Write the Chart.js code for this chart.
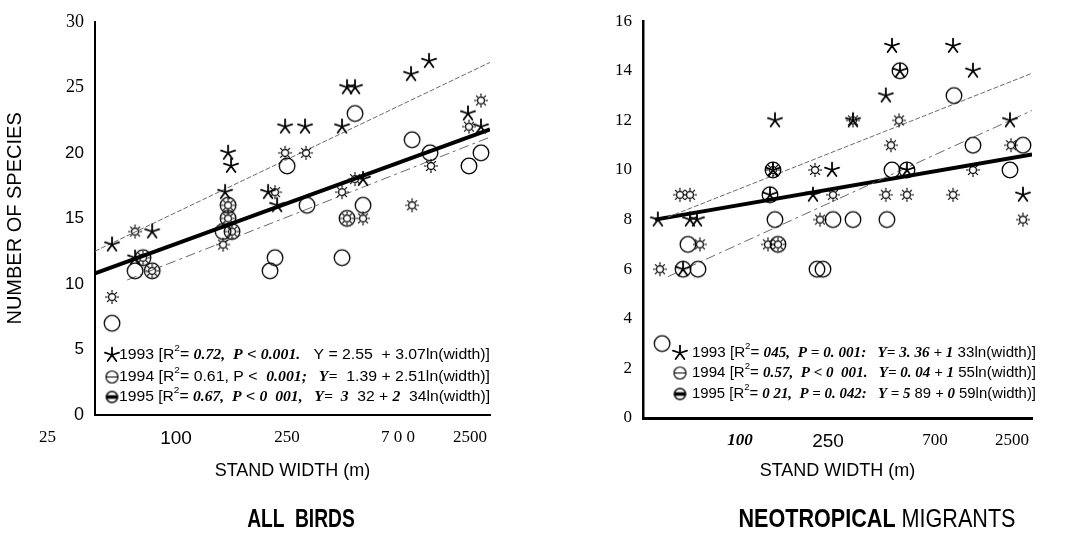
<!DOCTYPE html>
<html><head><meta charset="utf-8">
<script src="https://cdn.jsdelivr.net/npm/chart.js@4.4.0/dist/chart.umd.min.js"></script>
<style>
html,body{margin:0;padding:0;background:#fff;}
#wrap{position:relative;width:1073px;height:535px;overflow:hidden;background:#fff;}
#c1box{position:absolute;left:0;top:0;width:530px;height:535px;}
#c2box{position:absolute;left:530px;top:0;width:543px;height:535px;}
.ttl{position:absolute;top:503px;font-family:'Liberation Sans Narrow','Arial Narrow','Liberation Sans',sans-serif;font-size:26px;line-height:30px;color:#000;white-space:pre;}
</style></head><body>
<div id="wrap">
<div id="c1box"><canvas id="c1" width="530" height="535" style="width:530px;height:535px"></canvas></div>
<div id="c2box"><canvas id="c2" width="543" height="535" style="width:543px;height:535px"></canvas></div>
<div class="ttl" style="left:301px;font-weight:bold;transform:translateX(-50%) scaleX(0.74)">ALL  BIRDS</div>
<div class="ttl" style="left:877px;transform:translateX(-50%) scaleX(0.83)"><b>NEOTROPICAL</b> MIGRANTS</div>
</div>
<script>
// ---------- DATA: ALL BIRDS ----------
const allWidth1993 = [30.0, 48.4, 39.5, 119.5, 123.8, 115.3, 192.4, 214.2, 235.6, 298.9, 464.3, 492.7, 542, 596, 1056, 1308, 2080, 2429];
const allSpp1993   = [13, 14, 12, 20, 19, 17, 17, 16, 22, 22, 22, 25, 25, 18, 26, 27, 23, 22];
const allWidth1994 = [30.0, 39.5, 43.4, 48.4, 119.5, 119.5, 112.6, 125.3, 241.3, 209.1, 197.0, 306.1, 542, 464.3, 492.7, 596, 1069, 1324, 2105, 2429];
const allSpp1994   = [7, 11, 12, 11, 16, 15, 14, 14, 19, 12, 11, 16, 23, 12, 15, 16, 21, 20, 19, 20];
const allWidth1995 = [30.0, 39.5, 43.4, 48.4, 119.5, 119.5, 125.3, 112.6, 209.1, 235.6, 302.5, 464.3, 542, 492.7, 596, 1339, 1069, 2429, 2105];
const allSpp1995   = [9, 14, 12, 11, 16, 15, 14, 13, 17, 20, 20, 17, 18, 15, 15, 19, 16, 24, 22];
const allFitX1993 = [24.5, 2704], allFitY1993 = [12.5, 26.9];
const allFitX1994 = [35.9, 2704], allFitY1994 = [10.3, 21.2];
const allFitX1995 = [24.5, 2704], allFitY1995 = [10.8, 21.8];
const allTickLabels = ['25', '100', '250', '7 0 0', '2500'];
const allTickAt     = [13.9, 64.3, 241, 904, 2129];

// ---------- DATA: NEOTROPICAL MIGRANTS ----------
const neoWidth1993 = [37.2, 54.4, 59.1, 50.1, 140.2, 145.2, 148.7, 233.2, 292.1, 374.2, 552.5, 594, 652.8, 708.9, 1223, 1549, 2400, 2799];
const neoSpp1993   = [8, 8, 8, 6, 9, 10, 12, 9, 10, 12, 13, 15, 14, 10, 15, 14, 12, 9];
const neoWidth1994 = [39.1, 53.1, 59.8, 50.1, 140.2, 148.7, 145.2, 154.1, 244.5, 262.4, 295.5, 374.2, 559.2, 594, 652.8, 708.9, 1237, 1549, 2400, 2799];
const neoSpp1994   = [3, 7, 6, 6, 9, 8, 10, 7, 6, 6, 8, 8, 8, 10, 14, 10, 13, 11, 10, 11];
const neoWidth1995 = [38.1, 48.3, 54.4, 61.2, 136.9, 145.2, 154.1, 238.9, 253.4, 295.5, 374.2, 552.5, 587, 645.5, 708.9, 1223, 1549, 2430, 2799];
const neoSpp1995   = [6, 9, 9, 7, 7, 10, 7, 10, 8, 9, 12, 9, 11, 12, 9, 9, 10, 11, 8];
const neoFitX1993 = [41.9, 3114], neoFitY1993 = [8.1, 13.9];
const neoFitX1994 = [41.9, 3114], neoFitY1994 = [5.7, 12.4];
const neoFitX1995 = [36.0, 3114], neoFitY1995 = [8.0, 10.63];
const neoTickLabels = ['100', '250', '700', '2500'];
const neoTickAt     = [98.3, 278.5, 988, 2459];

const years = ['1993', '1994', '1995'];

// ---------- markers ----------
function mk(size, draw) {
  const c = document.createElement('canvas'); c.width = size; c.height = size;
  const g = c.getContext('2d'); g.translate(size / 2, size / 2); g.strokeStyle = '#000'; g.fillStyle = '#000';
  draw(g); return c;
}
const starImg = mk(18, g => {
  g.lineWidth = 1.8; g.lineCap = 'round'; g.beginPath();
  for (let k = 0; k < 5; k++) { const a = (-90 + 72 * k) * Math.PI / 180; g.moveTo(0, 0); g.lineTo(7.4 * Math.cos(a), 7.4 * Math.sin(a)); }
  g.stroke();
});
const circleImg = mk(20, g => { g.lineWidth = 1.3; g.beginPath(); g.arc(0, 0, 7.8, 0, Math.PI * 2); g.stroke(); });
const sunImg = mk(16, g => {
  g.lineWidth = 1.15; g.beginPath(); g.arc(0, 0, 3.4, 0, Math.PI * 2); g.stroke();
  g.beginPath();
  for (let k = 0; k < 8; k++) { const a = k * Math.PI / 4; g.moveTo(4.3 * Math.cos(a), 4.3 * Math.sin(a)); g.lineTo(7 * Math.cos(a), 7 * Math.sin(a)); }
  g.stroke();
});
const leg1994Img = mk(15, g => { g.lineWidth = 1.2; g.beginPath(); g.arc(0, 0, 6, 0, Math.PI * 2); g.moveTo(-6, 0); g.lineTo(6, 0); g.stroke(); });
const leg1995Img = mk(15, g => { g.lineWidth = 1.4; g.beginPath(); g.arc(0, 0, 5.5, 0, Math.PI * 2); g.stroke(); g.fillRect(-6, -1.8, 12, 3.6); });

function pts(xs, ys) { return xs.map((x, i) => ({ x: x, y: ys[i] })); }

const SANS = "'Liberation Sans', Arial, sans-serif";
const SERIF = "'Liberation Serif', 'Times New Roman', serif";
const NARROW = "'Liberation Sans Narrow', 'Arial Narrow', 'Liberation Sans', sans-serif";

// ---------- legend plugin ----------
function legendPlugin(cfg) {
  return {
    id: 'eqLegend',
    afterDraw(chart) {
      const ctx = chart.ctx;
      const fonts = {
        S: '14px ' + SANS,
        B: 'bold italic 14px ' + SERIF,
        U: '9px ' + SANS
      };
      cfg.lines.forEach((line, i) => {
        const y = cfg.ys[i];
        const img = cfg.imgs[i];
        ctx.drawImage(img, cfg.symX - img.width / 2, y - img.height / 2);
        let w = 0;
        line.forEach(s => { ctx.font = fonts[s[1]]; w += ctx.measureText(s[0]).width; });
        const k = (cfg.x1 - cfg.x0) / w;
        ctx.save(); ctx.translate(cfg.x0, y); ctx.scale(k, 1);
        ctx.textBaseline = 'middle'; ctx.fillStyle = '#000';
        let x = 0;
        line.forEach(s => { ctx.font = fonts[s[1]]; ctx.fillText(s[0], x, s[1] === 'U' ? -6 : 0); x += ctx.measureText(s[0]).width; });
        ctx.restore();
      });
    }
  };
}

function makeChart(id, o) {
  const lineDs = (xs, ys, dash, width, color) => ({
    type: 'line', data: pts(xs, ys), borderColor: color, borderWidth: width, borderDash: dash,
    pointRadius: 0, fill: false, showLine: true, order: 1
  });
  return new Chart(document.getElementById(id), {
    type: 'scatter',
    data: {
      datasets: [
        { label: years[0], data: pts(o.w93, o.s93), pointStyle: starImg, pointRadius: 7, order: 0 },
        { label: years[1], data: pts(o.w94, o.s94), pointStyle: circleImg, pointRadius: 7, order: 0 },
        { label: years[2], data: pts(o.w95, o.s95), pointStyle: sunImg, pointRadius: 7, order: 0 },
        lineDs(o.f93x, o.f93y, [5, 2], 1, '#6a6a6a'),
        lineDs(o.f94x, o.f94y, [10, 4, 3, 4], 1, '#6a6a6a'),
        lineDs(o.f95x, o.f95y, [], 4, '#000')
      ]
    },
    options: {
      responsive: false, animation: false, devicePixelRatio: 1,
      layout: { padding: { left: 0, right: o.padRight, top: 15, bottom: 29 } },
      plugins: { legend: { display: false }, tooltip: { enabled: false } },
      scales: {
        x: {
          type: 'logarithmic', min: o.xmin, max: o.xmax,
          grid: { display: false, drawTicks: false },
          border: { display: true, color: '#000', width: o.xBorder },
          afterBuildTicks: s => { s.ticks = o.tickAt.map(v => ({ value: v })); },
          afterFit: s => { s.height = o.xHeight; },
          ticks: {
            autoSkip: false, maxRotation: 0, minRotation: 0, padding: 12, color: '#000',
            callback: (v, i) => o.tickLabels[i],
            font: c => o.xFont(c.index)
          },
          title: { display: true, text: 'STAND WIDTH (m)', color: '#000', font: { family: NARROW, size: 18 }, padding: { top: 0, bottom: 24 } }
        },
        y: {
          type: 'linear', min: 0, max: o.ymax,
          grid: { display: false, drawTicks: false },
          border: { display: true, color: '#000', width: o.yBorder },
          afterFit: s => { s.width = o.yWidth; },
          ticks: { stepSize: o.ystep, padding: 11, color: '#000', font: c => o.yFont(c.tick ? c.tick.value : 0) },
          title: { display: o.yTitle, text: 'NUMBER OF SPECIES', color: '#000', font: { family: SANS, size: 20 }, padding: { top: 3, bottom: 0 } }
        }
      }
    },
    plugins: [legendPlugin(o.legend)]
  });
}

makeChart('c1', {
  w93: allWidth1993, s93: allSpp1993, w94: allWidth1994, s94: allSpp1994, w95: allWidth1995, s95: allSpp1995,
  f93x: allFitX1993, f93y: allFitY1993, f94x: allFitX1994, f94y: allFitY1994, f95x: allFitX1995, f95y: allFitY1995,
  xmin: 24.5, xmax: 2704, ymax: 30, ystep: 5, padRight: 40, xHeight: 91, yWidth: 95, xBorder: 2, yBorder: 2, yTitle: true,
  tickAt: allTickAt, tickLabels: allTickLabels,
  xFont: i => (i === 1 ? { family: NARROW, size: 19 } : { family: SERIF, size: 17 }),
  yFont: v => (v >= 25 ? { family: SERIF, size: 18 } : (v === 0 ? { family: NARROW, size: 18 } : { family: SANS, size: 17 })),
  legend: {
    symX: 112, x0: 119, x1: 490, ys: [355, 377, 397], imgs: [starImg, leg1994Img, leg1995Img],
    lines: [
      [['1993 [R', 'S'], ['2', 'U'], ['= ', 'S'], ['0.72,  P', 'B'], [' < ', 'S'], ['0.001.', 'B'], ['   Y = 2.55  + 3.07ln(width)]', 'S']],
      [['1994 [R', 'S'], ['2', 'U'], ['= 0.61, P <  ', 'S'], ['0.001;   Y=', 'B'], ['  1.39 + 2.51ln(width)]', 'S']],
      [['1995 [R', 'S'], ['2', 'U'], ['= ', 'S'], ['0.67,  P', 'B'], [' < ', 'S'], ['0  001,   Y=  3', 'B'], ['  32 + ', 'S'], ['2', 'B'], ['  34ln(width)]', 'S']]
    ]
  }
});

makeChart('c2', {
  w93: neoWidth1993, s93: neoSpp1993, w94: neoWidth1994, s94: neoSpp1994, w95: neoWidth1995, s95: neoSpp1995,
  f93x: neoFitX1993, f93y: neoFitY1993, f94x: neoFitX1994, f94y: neoFitY1994, f95x: neoFitX1995, f95y: neoFitY1995,
  xmin: 31.2, xmax: 3114, ymax: 16, ystep: 2, padRight: 41, xHeight: 88, yWidth: 113, xBorder: 3, yBorder: 2.5, yTitle: false,
  tickAt: neoTickAt, tickLabels: neoTickLabels,
  xFont: i => (i === 0 ? { family: SERIF, size: 17, style: 'italic', weight: 'bold' } : (i === 1 ? { family: NARROW, size: 19 } : { family: SERIF, size: 17 })),
  yFont: v => ({ family: SERIF, size: 17 }),
  legend: {
    symX: 150, x0: 162, x1: 506, ys: [353, 373, 394], imgs: [starImg, leg1994Img, leg1995Img],
    lines: [
      [['1993 [R', 'S'], ['2', 'U'], ['= ', 'S'], ['045,  P = 0. 001:   Y= 3. 36 + 1', 'B'], [' 33ln(width)]', 'S']],
      [['1994 [R', 'S'], ['2', 'U'], ['= ', 'S'], ['0.57,  P < 0  001.   Y= 0. 04 + 1', 'B'], [' 55ln(width)]', 'S']],
      [['1995 [R', 'S'], ['2', 'U'], ['= ', 'S'], ['0 21,  P = 0. 042:   Y = 5', 'B'], [' 89 ', 'S'], ['+ 0', 'B'], [' 59ln(width)]', 'S']]
    ]
  }
});
</script>
</body></html>
